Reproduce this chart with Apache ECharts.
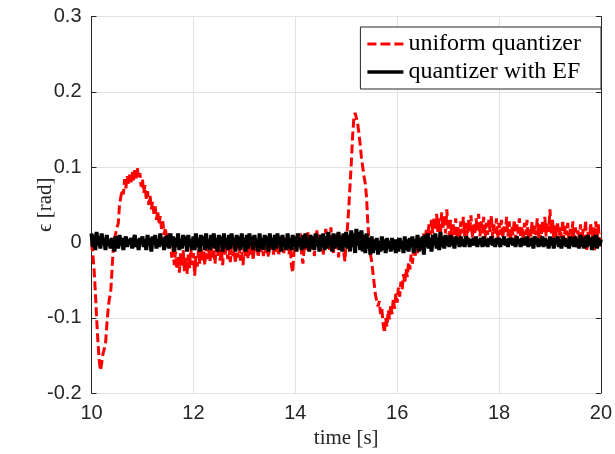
<!DOCTYPE html>
<html>
<head>
<meta charset="utf-8">
<script src="https://cdn.jsdelivr.net/npm/echarts@6/dist/echarts.min.js"></script>
<style>html,body{margin:0;padding:0;background:#fff}#c{width:615px;height:454px}</style>
</head>
<body>
<div id="c"></div>
<script>
// time samples: 10 s to 20 s, step 0.025 s (401 samples); one row = 0.5 s
const tStart = 10;
const tStep = 0.025;
const xTicks = [10, 12, 14, 16, 18, 20];
const yTicks = [-0.2, -0.1, 0, 0.1, 0.2, 0.3];

const uniformQuantizer = [
 0.0,-0.015,-0.035,-0.065,-0.1,-0.13,-0.155,-0.17,-0.16,-0.148,-0.15,-0.135,-0.11,-0.09,-0.075,-0.068,-0.04,-0.01,0.005,0.012,
 0.02,0.025,0.05,0.048,0.07,0.064,0.084,0.072,0.088,0.076,0.09,0.08,0.094,0.082,0.096,0.085,0.099,0.084,0.092,0.074,
 0.084,0.066,0.076,0.058,0.068,0.05,0.062,0.044,0.054,0.038,0.048,0.03,0.042,0.024,0.035,0.018,0.028,0.01,0.02,0.002,
 0.012,-0.006,0.004,-0.02,-0.008,-0.03,-0.012,-0.036,-0.018,-0.04,-0.014,-0.032,-0.01,-0.038,-0.02,-0.042,-0.016,-0.034,-0.008,-0.03,
 -0.014,-0.044,-0.018,-0.032,-0.01,-0.028,-0.006,-0.024,-0.012,-0.03,-0.004,-0.022,-0.01,-0.026,-0.004,-0.02,-0.008,-0.028,-0.006,-0.018,
 -0.002,-0.024,-0.01,-0.03,-0.006,-0.016,0.0,-0.022,-0.008,-0.026,-0.004,-0.018,-0.01,-0.028,-0.002,-0.02,-0.006,-0.024,-0.012,-0.03,
 -0.004,-0.018,-0.008,-0.022,0.002,-0.016,-0.006,-0.024,-0.002,-0.014,-0.008,-0.02,0.003,-0.012,-0.004,-0.018,0.002,-0.014,-0.006,-0.02,
 0.004,-0.01,-0.002,-0.016,0.006,-0.012,-0.004,-0.018,0.004,-0.01,0.0,-0.014,0.006,-0.008,0.002,-0.016,-0.004,-0.03,-0.04,-0.012,
 0.004,-0.01,0.008,-0.006,0.012,-0.014,-0.028,-0.008,0.006,-0.01,0.014,-0.004,0.01,-0.012,0.006,-0.018,0.004,0.016,-0.006,0.01,
 -0.012,0.008,-0.016,0.004,0.018,-0.004,0.01,-0.01,0.02,0.002,-0.014,0.008,-0.006,0.012,-0.02,0.006,-0.008,0.01,-0.012,-0.025,
 0.0,0.02,0.045,0.075,0.105,0.14,0.165,0.172,0.17,0.158,0.145,0.13,0.112,0.1,0.088,0.078,0.06,0.025,0.0,-0.015,
 -0.025,-0.04,-0.055,-0.07,-0.068,-0.085,-0.078,-0.095,-0.088,-0.108,-0.12,-0.1,-0.112,-0.09,-0.102,-0.082,-0.095,-0.075,-0.088,-0.068,
 -0.08,-0.06,-0.072,-0.052,-0.062,-0.042,-0.054,-0.035,-0.046,-0.026,-0.036,-0.016,-0.028,-0.01,-0.02,-0.004,-0.014,0.002,-0.008,0.008,
 -0.002,0.012,0.002,0.018,0.006,0.024,0.01,0.03,0.012,0.034,0.016,0.038,0.014,0.032,0.01,0.04,0.018,0.036,0.012,0.044,
 0.02,0.008,0.03,0.004,0.024,0.01,0.032,0.006,0.022,0.002,0.028,0.012,0.034,0.008,0.026,0.004,0.03,0.014,0.036,0.006,
 0.024,0.01,0.032,0.016,0.038,0.008,0.028,0.012,0.034,0.004,0.026,0.01,0.03,0.014,0.036,0.006,0.024,0.012,0.032,0.004,
 0.026,0.01,0.03,0.006,0.024,0.014,0.034,0.008,0.028,0.002,0.022,0.01,0.03,0.004,0.024,0.012,0.032,0.006,0.022,0.002,
 0.026,0.01,0.03,0.004,0.02,0.008,0.028,0.0,0.022,0.01,0.032,0.006,0.024,0.002,0.028,0.012,0.034,0.008,0.026,0.014,
 0.044,0.012,0.03,0.004,0.024,0.008,0.028,0.0,0.02,0.006,0.03,0.002,0.022,0.01,0.026,-0.004,0.018,0.004,0.028,0.0,
 0.02,-0.008,0.016,0.002,0.024,-0.006,0.018,0.004,0.03,-0.01,0.014,0.0,0.026,-0.004,0.02,-0.012,0.028,0.002,0.024,-0.008,
 0.012
];

const quantizerEF = [
 0.012,-0.006,0.01,-0.01,0.014,-0.004,0.008,-0.008,0.012,-0.002,0.006,-0.01,0.01,-0.004,0.004,-0.008,0.006,0.0,-0.012,0.008,
 0.004,-0.008,0.01,-0.004,0.006,-0.01,0.002,0.008,-0.006,0.004,-0.002,0.006,-0.008,0.002,0.01,-0.006,0.004,-0.01,0.006,-0.002,
 0.008,-0.006,0.004,-0.01,0.01,-0.004,0.006,-0.012,0.008,-0.002,0.01,-0.008,0.004,-0.006,0.012,-0.004,0.006,-0.01,0.008,-0.006,
 0.01,-0.008,0.012,-0.004,0.008,-0.012,0.006,-0.006,0.012,-0.01,0.004,-0.008,0.01,-0.004,0.008,-0.012,0.01,-0.006,0.004,-0.01,
 0.008,-0.01,0.012,-0.006,0.006,-0.012,0.01,-0.004,0.008,-0.01,0.012,-0.008,0.004,-0.01,0.01,-0.006,0.012,-0.008,0.006,-0.012,
 0.01,-0.004,0.008,-0.012,0.012,-0.006,0.006,-0.01,0.01,-0.008,0.012,-0.004,0.006,-0.012,0.01,-0.006,0.008,-0.01,0.012,-0.006,
 0.006,-0.012,0.01,-0.008,0.012,-0.004,0.008,-0.01,0.01,-0.006,0.004,-0.012,0.012,-0.008,0.006,-0.01,0.01,-0.004,0.008,-0.012,
 0.012,-0.006,0.006,-0.01,0.01,-0.008,0.012,-0.004,0.008,-0.012,0.01,-0.006,0.004,-0.01,0.012,-0.008,0.006,-0.01,0.01,-0.006,
 0.008,-0.012,0.012,-0.004,0.006,-0.01,0.01,-0.008,0.012,-0.006,0.004,-0.012,0.01,-0.008,0.008,-0.01,0.012,-0.004,0.006,-0.012,
 0.01,-0.006,0.012,-0.01,0.008,-0.008,0.014,-0.004,0.006,-0.012,0.012,-0.008,0.01,-0.006,0.014,-0.01,0.008,-0.012,0.012,-0.006,
 0.014,-0.008,0.01,-0.012,0.016,-0.006,0.012,-0.014,0.018,-0.004,0.014,-0.01,0.016,-0.012,0.01,-0.014,0.012,-0.008,0.006,-0.016,
 0.008,-0.014,0.004,-0.01,0.006,-0.016,0.002,-0.012,0.008,-0.01,0.004,-0.014,0.006,-0.008,0.002,-0.012,0.006,-0.01,0.004,-0.014,
 0.004,-0.012,0.006,-0.008,0.002,-0.014,0.008,-0.01,0.004,-0.012,0.006,-0.006,0.008,-0.014,0.004,-0.008,0.01,-0.012,0.006,-0.01,
 0.008,-0.016,0.01,-0.006,0.012,-0.008,0.006,-0.012,0.01,-0.004,0.012,-0.008,0.006,-0.01,0.014,-0.006,0.008,-0.008,0.01,-0.004,
 0.008,-0.006,0.01,-0.004,0.006,-0.008,0.008,-0.002,0.006,-0.006,0.008,-0.004,0.004,-0.006,0.008,-0.002,0.006,-0.006,0.004,-0.004,
 0.006,-0.004,0.008,-0.006,0.004,-0.002,0.006,-0.006,0.008,-0.004,0.004,-0.006,0.006,-0.002,0.008,-0.004,0.004,-0.006,0.006,-0.002,
 0.006,-0.006,0.004,-0.002,0.008,-0.004,0.004,-0.006,0.006,-0.002,0.006,-0.004,0.004,-0.006,0.008,-0.002,0.004,-0.006,0.006,-0.004,
 0.006,-0.004,0.008,-0.006,0.004,-0.004,0.006,-0.008,0.008,-0.002,0.006,-0.006,0.004,-0.004,0.008,-0.006,0.006,-0.004,0.004,-0.008,
 0.008,-0.004,0.006,-0.008,0.006,-0.002,0.008,-0.006,0.004,-0.008,0.008,-0.004,0.006,-0.006,0.004,-0.008,0.008,-0.004,0.006,-0.006,
 0.008,-0.006,0.004,-0.008,0.01,-0.004,0.006,-0.008,0.008,-0.006,0.01,-0.004,0.006,-0.01,0.008,-0.006,0.01,-0.008,0.006,-0.004,
 0.004
];

const pairs = arr => arr.map((v, i) => [+(tStart + i * tStep).toFixed(3), v]);

const frame = '#262626';
const tickFont = { fontFamily: 'Liberation Sans, Arial, sans-serif', fontSize: 20, color: '#262626' };
const serif = 'Liberation Serif, Times New Roman, serif';

const chart = echarts.init(document.getElementById('c'), null, { renderer: 'canvas' });
chart.setOption({
  animation: false,
  backgroundColor: '#fff',
  grid: { left: 91.5, right: 13, top: 16.5, bottom: 54.5, containLabel: false },
  legend: {
    right: 14, top: 27,
    orient: 'vertical',
    backgroundColor: '#fff',
    borderColor: '#262626', borderWidth: 1,
    padding: [5, 20, 5, 7],
    itemWidth: 36, itemHeight: 14, itemGap: 4,
    textStyle: { fontFamily: serif, fontSize: 24, color: '#000' },
    data: [
      { name: 'uniform quantizer', icon: 'path://M0,6 L9,6 L9,9 L0,9 Z M13,6 L23,6 L23,9 L13,9 Z M27,6 L36,6 L36,9 L27,9 Z', itemStyle: { color: '#ff0000' } },
      { name: 'quantizer with EF', icon: 'path://M0,6 L36,6 L36,9.5 L0,9.5 Z', itemStyle: { color: '#000' } }
    ]
  },
  xAxis: [
    {
      type: 'value', min: 10, max: 20, interval: 2,
      name: 'time [s]', nameLocation: 'middle', nameGap: 30,
      nameTextStyle: { fontFamily: serif, fontSize: 21, color: '#262626' },
      axisLine: { show: true, lineStyle: { color: frame, width: 1 } },
      axisTick: { show: true, inside: true, length: 5, lineStyle: { color: frame } },
      axisLabel: Object.assign({ margin: 10 }, tickFont),
      splitLine: { show: true, lineStyle: { color: '#e3e3e3', width: 1 } }
    },
    {
      type: 'value', min: 10, max: 20, interval: 2, position: 'top',
      axisLine: { show: true, lineStyle: { color: frame, width: 1 } },
      axisTick: { show: true, inside: true, length: 5, lineStyle: { color: frame } },
      axisLabel: { show: false }, splitLine: { show: false }
    }
  ],
  yAxis: [
    {
      type: 'value', min: -0.2, max: 0.3, interval: 0.1,
      name: 'ϵ [rad]', nameLocation: 'middle', nameGap: 36, nameRotate: 90,
      nameMoveOverlap: false,
      nameTextStyle: { fontFamily: serif, fontSize: 21, color: '#262626' },
      axisLine: { show: true, lineStyle: { color: frame, width: 1 } },
      axisTick: { show: true, inside: true, length: 5, lineStyle: { color: frame } },
      axisLabel: Object.assign({ margin: 10, formatter: v => (Math.round(v * 10) / 10).toString() }, tickFont),
      splitLine: { show: true, lineStyle: { color: '#e3e3e3', width: 1 } }
    },
    {
      type: 'value', min: -0.2, max: 0.3, interval: 0.1, position: 'right',
      axisLine: { show: true, lineStyle: { color: frame, width: 1 } },
      axisTick: { show: true, inside: true, length: 5, lineStyle: { color: frame } },
      axisLabel: { show: false }, splitLine: { show: false }
    }
  ],
  series: [
    {
      name: 'uniform quantizer', type: 'line', xAxisIndex: 0, yAxisIndex: 0,
      data: pairs(uniformQuantizer), showSymbol: false, symbol: 'none',
      lineStyle: { color: '#ff0000', width: 3, type: [9, 4] },
      itemStyle: { color: '#ff0000' }, z: 2
    },
    {
      name: 'quantizer with EF', type: 'line', xAxisIndex: 0, yAxisIndex: 0,
      data: pairs(quantizerEF), showSymbol: false, symbol: 'none',
      lineStyle: { color: '#000', width: 4 },
      itemStyle: { color: '#000' }, z: 3
    }
  ]
});
</script>
</body>
</html>
